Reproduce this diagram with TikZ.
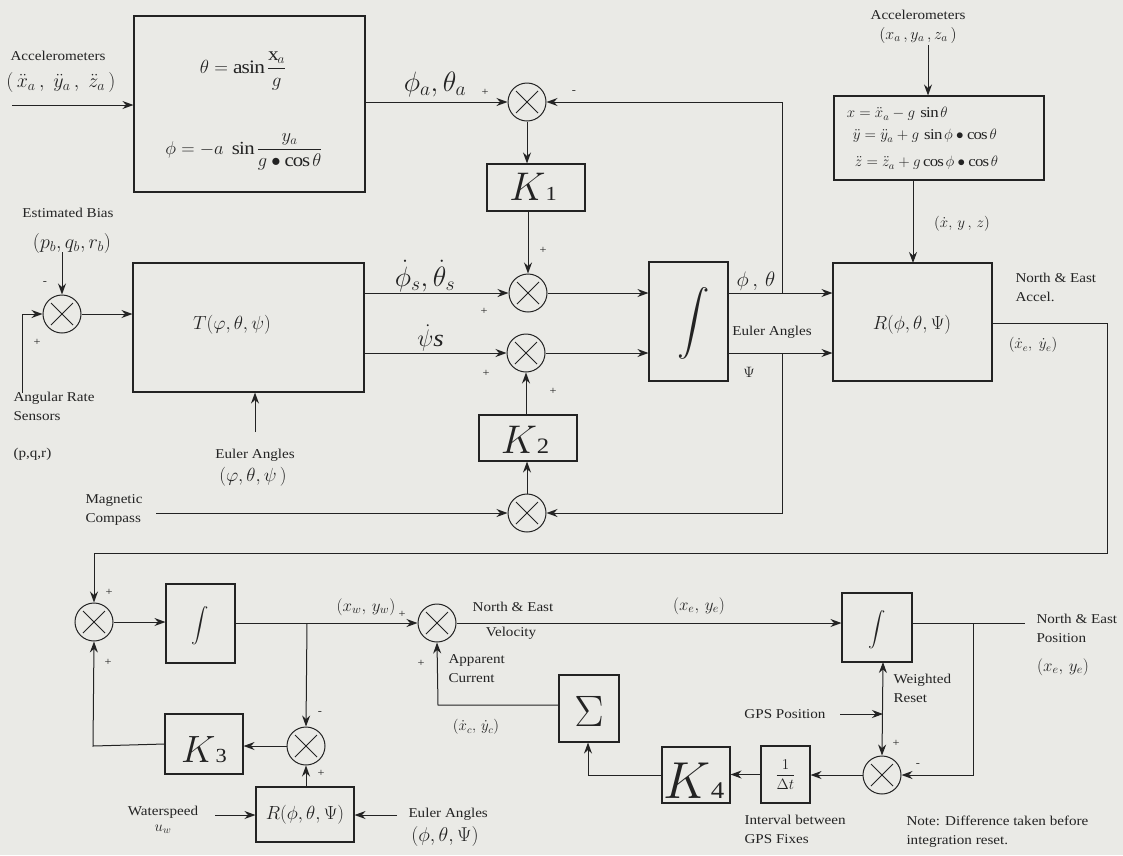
\RequirePackage{fix-cm}
\documentclass[tikz,border=0pt]{standalone}
\usepackage{amsmath}
\usepackage{graphicx}
\usepackage{fontspec}
\setmainfont{Liberation Serif}[FakeStretch=1.12]
\usetikzlibrary{arrows.meta}
\definecolor{bg}{RGB}{234,234,230}
\definecolor{ink}{RGB}{35,35,35}
\begin{document}
\begin{tikzpicture}[x=1pt,y=-1pt, line width=1pt, draw=ink, text=ink,
  >={Stealth[length=11pt,width=8pt]},
  box/.style={draw=ink, line width=1.1pt, inner sep=0pt},
  summer/.style={draw=ink, circle, minimum size=38pt, inner sep=0pt, line width=1pt,
    path picture={\draw[line width=1pt,ink] ([shift={(-11pt,-11pt)}]path picture bounding box.center) -- ([shift={(11pt,11pt)}]path picture bounding box.center);
      \draw[line width=1pt,ink] ([shift={(-11pt,11pt)}]path picture bounding box.center) -- ([shift={(11pt,-11pt)}]path picture bounding box.center);}},
  lbl/.style={font=\fontsize{13.5}{19}\selectfont, align=left, inner sep=0pt},
  clbl/.style={font=\fontsize{13.5}{19}\selectfont, align=center, inner sep=0pt},
  sgn/.style={font=\fontsize{11}{11}\selectfont, inner sep=0pt},
  big/.style={font=\fontsize{28}{28}\selectfont, inner sep=0pt}]
\fill[bg] (0,0) rectangle (1123,855);
\useasboundingbox (0,0) rectangle (1123,855);

% ---------- boxes ----------
\node[box, minimum width=231pt, minimum height=176pt] (acc) at (249.5,104) {};
\node[box, minimum width=231pt, minimum height=129pt] (T) at (248.5,327.5) {};
\node[box, minimum width=98pt, minimum height=47pt] (K1) at (536,187.5) {};
\node[box, minimum width=98pt, minimum height=46pt] (K2) at (528,438) {};
\node[box, minimum width=79pt, minimum height=119pt] (int1) at (688.5,321.5) {};
\node[box, minimum width=210pt, minimum height=84pt] (acc2) at (939,138) {};
\node[box, minimum width=159pt, minimum height=118pt] (R1) at (912.5,322) {};
\node[box, minimum width=69pt, minimum height=79pt] (int2) at (200.5,623.5) {};
\node[box, minimum width=78pt, minimum height=60pt] (K3) at (204,744) {};
\node[box, minimum width=98pt, minimum height=55pt] (R2) at (305,814.5) {};
\node[box, minimum width=70pt, minimum height=69pt] (int3) at (877,627.5) {};
\node[box, minimum width=60pt, minimum height=67pt] (Sig) at (589,708.5) {};
\node[box, minimum width=68pt, minimum height=56pt] (K4) at (696,775) {};
\node[box, minimum width=49pt, minimum height=57pt] (dt) at (785.5,774.5) {};

% ---------- summers ----------
\node[summer] (s1) at (527,102) {};
\node[summer] (s2) at (528,293) {};
\node[summer] (s3) at (526,353) {};
\node[summer] (sb) at (62,314) {};
\node[summer] (s4) at (527,513) {};
\node[summer] (s5) at (94,622) {};
\node[summer] (s6) at (437,623) {};
\node[summer] (s7) at (306,746) {};
\node[summer] (s8) at (882,775) {};

% ---------- box contents ----------
\node[font=\fontsize{19}{19}\selectfont] (eqth) at (243,71) {$\theta = \mathrm{asin}\,\dfrac{\mathrm{x}_{a}}{g}$};
\node[font=\fontsize{18.5}{18.5}\selectfont] (eqph) at (244,152) {$\phi = -a\ \sin\dfrac{y_a}{g\bullet\cos\theta}$};
\node[font=\fontsize{19}{19}\selectfont] (Ttxt) at (232,325) {$T(\varphi,\theta,\psi)$};
\node[font=\fontsize{40}{40}\selectfont, inner sep=0pt] (K1t) at (533,187) {$K$\fontsize{20}{20}\selectfont 1};
\node[font=\fontsize{40}{40}\selectfont, inner sep=0pt] (K2t) at (525,440) {$K$\fontsize{22}{22}\selectfont 2};
\node[font=\fontsize{36}{36}\selectfont] (int1t) at (694,323) {\scalebox{1.3}{$\displaystyle\int$}};
\node[font=\fontsize{15}{15}\selectfont, anchor=west] (e1) at (843,114) {$x = \ddot{x}_a - g\,\sin\theta$};
\node[font=\fontsize{15}{15}\selectfont, anchor=west] (e2) at (849,136) {$\ddot{y} = \ddot{y}_a + g\,\sin\phi\bullet\cos\theta$};
\node[font=\fontsize{15}{15}\selectfont, anchor=west] (e3) at (851,163) {$\ddot{z} = \ddot{z}_a + g\cos\phi\bullet\cos\theta$};
\node[font=\fontsize{19}{19}\selectfont] (R1t) at (912,325) {$R(\phi,\theta,\Psi)$};
\node[font=\fontsize{18}{18}\selectfont] (int2t) at (200,626) {$\displaystyle\int$};
\node[font=\fontsize{38}{38}\selectfont, inner sep=0pt] (K3t) at (204,750) {$K$\fontsize{20}{20}\selectfont 3};
\node[font=\fontsize{19}{19}\selectfont] (R2t) at (305,815) {$R(\phi,\theta,\Psi)$};
\node[font=\fontsize{18}{18}\selectfont] (int3t) at (877,630) {$\displaystyle\int$};
\node[font=\fontsize{44}{44}\selectfont] (Sigt) at (589,711) {$\Sigma$};
\node[font=\fontsize{52}{52}\selectfont, inner sep=0pt] (K4t) at (694,781) {$K$\fontsize{24}{24}\selectfont 4};
\node[font=\fontsize{15}{15}\selectfont] (dtt) at (785.5,774.5) {$\dfrac{1}{\Delta t}$};

% ---------- free ends ----------
\coordinate (inacc) at (12,105);
\coordinate (inbias) at (62,252);
\coordinate (inrate) at (22,393);
\coordinate (ineul) at (255,432);
\coordinate (inmag) at (156,513);
\coordinate (inacc2) at (928,45);
\coordinate (j1) at (782,293);
\coordinate (j2) at (782,353);
\coordinate (rc1) at (1107,323);
\coordinate (rc2) at (1107,553);
\coordinate (j3) at (307,623);
\coordinate (k3c) at (93,746);
\coordinate (inws) at (215,815);
\coordinate (ineul2) at (397,815);
\coordinate (pout) at (1025,623);
\coordinate (j4) at (973,623);
\coordinate (ingps) at (840,714);
\coordinate (k4c) at (588,775);
\coordinate (sgc) at (438,705);

% ---------- connectors ----------
\draw[->] (inacc) -- (inacc -| acc.west);
\draw[->] (s1 -| acc.east) -- (s1.west);
\draw[->] (s1.south) -- (s1.south |- K1.north);
\draw[->] (s2.north |- K1.south) -- (s2.north);
\draw[->] (s2 -| T.east) -- (s2.west);
\draw[->] (s3 -| T.east) -- (s3.west);
\draw[->] (s2.east) -- (s2 -| int1.west);
\draw[->] (s3.east) -- (s3 -| int1.west);
\draw[->] (s2 -| int1.east) -- (s2 -| R1.west);
\draw[->] (s3 -| int1.east) -- (s3 -| R1.west);
\draw[->] (j1) |- (s1.east);
\draw[->] (j2) |- (s4.east);
\draw[->] (s4.north) -- (s4.north |- K2.south);
\draw[->] (s3.south |- K2.north) -- (s3.south);
\draw[->] (inmag) -- (s4.west);
\draw[->] (inbias) -- (sb.north);
\draw[->] (inrate) |- (sb.west);
\draw[->] (sb.east) -- (sb -| T.west);
\draw[->] (ineul) -- (ineul |- T.south);
\draw[->] (inacc2) -- (inacc2 |- acc2.north);
\draw[->] (913,180) -- (913,263);
\draw[->] (rc1 -| R1.east) -- (rc1) -- (rc2) -| (s5.north);
\draw[->] (s5.east) -- (s5 -| int2.west);
\draw[->] (s6 -| int2.east) -- (s6.west);
\draw[->] (j3) -- (s7.north);
\draw[->] (s7.west) -- (s7 -| K3.east);
\draw[->] (K3.west) -- (k3c) -- (s5.south);
\draw[->] (s7.south |- R2.north) -- (s7.south);
\draw[->] (inws) -- (inws -| R2.west);
\draw[->] (ineul2) -- (ineul2 -| R2.east);
\draw[->] (s6.east) -- (s6 -| int3.west);
\draw (pout -| int3.east) -- (pout);
\draw[->] (j4) |- (s8.east);
\draw[<->] (883,662) -- (s8.north);
\draw[->] (ingps) -- (883,714);
\draw[->] (s8.west) -- (s8 -| dt.east);
\draw[->] (dt.west) -- (dt.west -| K4.east);
\draw[->] (K4.west) -- (k4c) -- (k4c |- Sig.south);
\draw[->] (sgc -| Sig.west) -- (sgc) -- (s6.south);

% ---------- labels ----------
\node[clbl] (l1) at (58,56) {Accelerometers};
\node[font=\fontsize{20}{20}\selectfont] (l2) at (61,82) {$(\,\ddot{x}_a\,,\ \ddot{y}_a\,,\ \ddot{z}_a\,)$};
\node[big] (l3) at (435,84) {$\phi_a,\theta_a$};
\node[sgn] at (485,92) {+};
\node[sgn] at (574,92) {-};
\node[clbl] (l4) at (918,15) {Accelerometers};
\node[font=\fontsize{16}{16}\selectfont] (l5) at (918,35) {$(x_a\,,y_a\,,z_a\,)$};
\node[font=\fontsize{15}{15}\selectfont] (l6) at (962,224) {$(\dot{x},\,y\,,\,z)$};
\node[clbl] (l7) at (68,213) {Estimated Bias};
\node[font=\fontsize{20}{20}\selectfont] (l8) at (72,243) {$(p_b,q_b,r_b)$};
\node[sgn] at (45,283) {-};
\node[sgn] at (37,342) {+};
\node[lbl, anchor=north west] (l9) at (13,392) {Angular Rate\\Sensors};
\node[lbl, anchor=west] (l10) at (13,454) {(p,q,r)};
\node[clbl] (l11) at (255,455) {Euler Angles};
\node[font=\fontsize{19}{19}\selectfont] (l12) at (253,477) {$(\varphi,\theta,\psi\,)$};
\node[lbl, anchor=north west] (l13) at (85,494) {Magnetic\\Compass};
\node[sgn] at (543,250) {+};
\node[big] (l14) at (425,276) {$\dot\phi_s,\dot\theta_s$};
\node[sgn] at (484,311) {+};
\node[font=\fontsize{24}{24}\selectfont, inner sep=0pt] (l15) at (430,338) {$\dot\psi\mathit{s}$};
\node[sgn] at (486,373) {+};
\node[sgn] at (553,391) {+};
\node[font=\fontsize{21}{21}\selectfont] (l16) at (756,281) {$\phi\,,\,\theta$};
\node[clbl] (l17) at (772,332) {Euler Angles};
\node[font=\fontsize{15}{15}\selectfont] (l18) at (749,372) {$\Psi$};
\node[lbl, anchor=north west] (l19) at (1015,273) {North \& East\\Accel.};
\node[font=\fontsize{15}{15}\selectfont] (l20) at (1033,345) {$(\dot{x}_e,\ \dot{y}_e)$};
\node[sgn] at (109,592) {+};
\node[sgn] at (108,662) {+};
\node[font=\fontsize{17}{17}\selectfont] (l21) at (366,607) {$(x_w,\,y_w)$};
\node[sgn] at (402,614) {+};
\node[clbl] (l22) at (513,607) {North \& East};
\node[clbl] (l23) at (511,633) {Velocity};
\node[font=\fontsize{17}{17}\selectfont] (l24) at (699,606) {$(x_e,\,y_e)$};
\node[lbl, anchor=north west] (l25) at (1036,614) {North \& East\\Position};
\node[font=\fontsize{17}{17}\selectfont] (l26) at (1063,667) {$(x_e,\,y_e)$};
\node[sgn] at (421,663) {+};
\node[lbl, anchor=north west] (l27) at (448,654) {Apparent\\Current};
\node[font=\fontsize{15}{15}\selectfont] (l28) at (476,727) {$(\dot{x}_c,\,\dot{y}_c)$};
\node[sgn] at (320,713) {-};
\node[sgn] at (321,773) {+};
\node[clbl] (l29) at (163,812) {Waterspeed};
\node[font=\fontsize{15}{15}\selectfont] (l30) at (163,829) {$u_w$};
\node[lbl, anchor=west] (l31) at (408,814) {Euler Angles};
\node[font=\fontsize{20}{20}\selectfont] (l32) at (445,836) {$(\phi,\theta,\Psi)$};
\node[lbl, anchor=north west] (l33) at (893,674) {Weighted\\Reset};
\node[clbl] (l34) at (785,714) {GPS Position};
\node[sgn] at (896,743) {+};
\node[sgn] at (918,765) {-};
\node[lbl, anchor=north west] (l35) at (744,815) {Interval between\\GPS Fixes};
\node[lbl, anchor=north west] (l36) at (906,815) {Note: Difference taken before\\integration reset.};
\end{tikzpicture}
\end{document}
